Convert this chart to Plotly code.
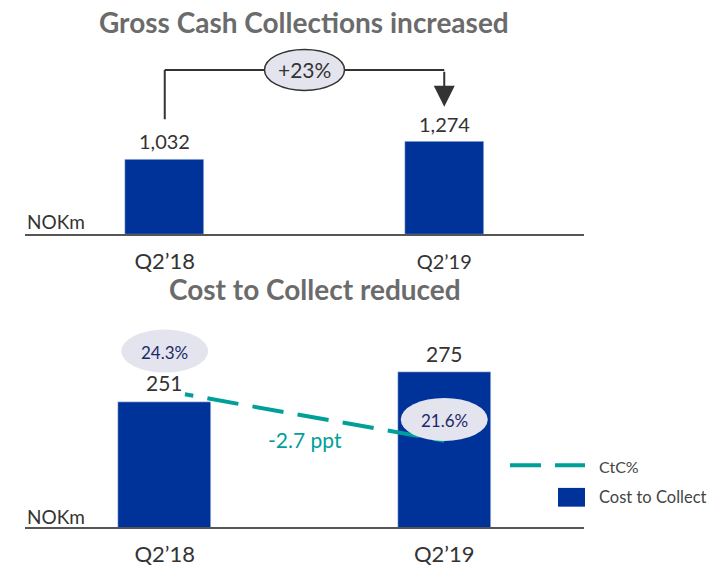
import plotly.graph_objects as go

quarters = ["Q2’18", "Q2’19"]
gross_cash = [1032, 1274]
cost_to_collect = [251, 275]
ctc_pct = [24.3, 21.6]
unit_label = "NOKm"

NAVY = "#003399"
TEAL = "#00A099"
INK = "#333333"
TITLE_GREY = "#6b6b6b"
BUBBLE = "#e4e4ee"
BUBBLE_TEXT = "#1c2a6a"
FONT = "Lato"

W, H = 712, 567


def fx(px):
    return px / W


def fy(px):
    return 1 - px / H


fig = go.Figure()

fig.add_trace(
    go.Bar(
        x=quarters,
        y=gross_cash,
        xaxis="x",
        yaxis="y",
        width=0.283,
        marker={"color": NAVY},
        name="Gross Cash Collections",
        showlegend=False,
        hoverinfo="skip",
    )
)
fig.add_trace(
    go.Bar(
        x=quarters,
        y=cost_to_collect,
        xaxis="x2",
        yaxis="y2",
        width=0.333,
        marker={"color": NAVY},
        name="Cost to Collect",
        showlegend=False,
        hoverinfo="skip",
    )
)
# first part of the dashed line sits hidden in the original, so the pattern starts with a gap
ctc_dash = "0px,20.5px,8.5px,14.3px" + ",31.5px,14.3px" * 6
fig.add_trace(
    go.Scatter(
        x=quarters,
        y=ctc_pct,
        xaxis="x2",
        yaxis="y3",
        mode="lines",
        line={"color": TEAL, "width": 4, "dash": ctc_dash},
        name="CtC%",
        showlegend=False,
        hoverinfo="skip",
    )
)

annotations = []
shapes = []

# bar value labels
for i, v in enumerate(gross_cash):
    annotations.append(dict(x=i, y=v, xref="x", yref="y", text=f"{v:,}", showarrow=False,
                            yshift=18, font={"size": 20, "color": INK}))
for i, v in enumerate(cost_to_collect):
    annotations.append(dict(x=i, y=v, xref="x2", yref="y2", text=f"{v:,}", showarrow=False,
                            yshift=19, font={"size": 21, "color": INK}))

# growth bracket on the top panel
growth = (gross_cash[1] / gross_cash[0] - 1) * 100
bracket_up = 89.3
line_style = {"color": INK, "width": 2}
shapes.append(dict(type="line", xref="x", yref="y", ysizemode="pixel", yanchor=gross_cash[0],
                   x0=0, x1=0, y0=40, y1=bracket_up, line=line_style, layer="above"))
shapes.append(dict(type="line", xref="x", yref="y", ysizemode="pixel", yanchor=gross_cash[0],
                   x0=0, x1=1, y0=bracket_up, y1=bracket_up, line=line_style, layer="above"))
shapes.append(dict(type="circle", xref="x", yref="y", xsizemode="pixel", ysizemode="pixel",
                   xanchor=0.5, yanchor=gross_cash[0], x0=-40, x1=40,
                   y0=bracket_up - 20.5, y1=bracket_up + 20.5,
                   fillcolor=BUBBLE, line={"color": INK, "width": 1.5}, layer="above"))
annotations.append(dict(x=0.5, y=gross_cash[0], xref="x", yref="y", yshift=bracket_up,
                        text=f"+{growth:.0f}%", showarrow=False,
                        font={"size": 21, "color": INK}))
arrow_top = 71.3
annotations.append(dict(x=1, y=gross_cash[1], xref="x", yref="y", text="", showarrow=True,
                        ax=0, ay=-arrow_top, standoff=35, arrowhead=2, arrowsize=2.1,
                        arrowwidth=2, arrowcolor=INK))

# CtC% bubbles
bubble_shift = [39.6, 21.2]
for i, v in enumerate(ctc_pct):
    s = bubble_shift[i]
    shapes.append(dict(type="circle", xref="x2", yref="y3", xsizemode="pixel", ysizemode="pixel",
                       xanchor=i, yanchor=v, x0=-43.5, x1=43.5, y0=s - 21.5, y1=s + 21.5,
                       fillcolor=BUBBLE, line={"width": 0}, layer="above"))
    annotations.append(dict(x=i, y=v, xref="x2", yref="y3", yshift=s - 1, text=f"{v:.1f}%",
                            showarrow=False, font={"size": 17, "color": BUBBLE_TEXT}))

change = ctc_pct[1] - ctc_pct[0]
annotations.append(dict(x=0.5, y=sum(ctc_pct) / 2, xref="x2", yref="y3", yshift=-24,
                        text=f"{change:.1f} ppt", showarrow=False,
                        font={"size": 21, "color": TEAL}))

# titles and unit labels
paper_text = dict(xref="paper", yref="paper", showarrow=False, yanchor="middle")
annotations.append(dict(paper_text, x=fx(303.5), y=fy(22), xanchor="center",
                        text="<b>Gross Cash Collections increased</b>",
                        font={"size": 28, "color": TITLE_GREY}))
annotations.append(dict(paper_text, x=fx(315), y=fy(293), xanchor="center",
                        text="<b>Cost to Collect reduced</b>",
                        font={"size": 28, "color": TITLE_GREY}))
for ypx in (224, 523):
    annotations.append(dict(paper_text, x=fx(25), y=fy(ypx), xanchor="left",
                            text=unit_label, font={"size": 19, "color": INK}))

# hand-built legend for the bottom panel
shapes.append(dict(type="line", xref="paper", yref="paper", x0=fx(510), x1=fx(585),
                   y0=fy(471), y1=fy(471), line={"color": TEAL, "width": 4, "dash": "31px,14px"}))
shapes.append(dict(type="rect", xref="paper", yref="paper", x0=fx(558), x1=fx(585),
                   y0=fy(513), y1=fy(494), fillcolor=NAVY, line={"width": 0}))
annotations.append(dict(paper_text, x=fx(597), y=fy(472), xanchor="left",
                        text="CtC%", font={"size": 16, "color": "#444444"}))
annotations.append(dict(paper_text, x=fx(597), y=fy(503), xanchor="left",
                        text="Cost to Collect", font={"size": 16.5, "color": "#444444"}))

x_common = dict(
    domain=[fx(25), fx(584)],
    type="category",
    range=[-0.5, 1.5],
    showline=True,
    linecolor="#555555",
    linewidth=2,
    showgrid=False,
    zeroline=False,
    ticks="outside",
    ticklen=6,
    tickcolor="rgba(0,0,0,0)",
    tickfont={"size": 22, "color": INK},
    fixedrange=True,
)

fig.update_layout(
    width=W,
    height=H,
    margin={"l": 0, "r": 0, "t": 0, "b": 0},
    paper_bgcolor="white",
    plot_bgcolor="white",
    font={"family": FONT, "color": INK},
    showlegend=False,
    bargap=0,
    xaxis=dict(x_common, anchor="y", tickvals=quarters,
               ticktext=[quarters[0], f"<span style='font-size:20px'>{quarters[1]}</span>"]),
    yaxis=dict(domain=[fy(237.3), fy(40)], range=[0, 2677], visible=False, fixedrange=True),
    xaxis2=dict(x_common, anchor="y2"),
    yaxis2=dict(domain=[fy(534), fy(318)], range=[149.4, 322.2], visible=False, fixedrange=True),
    yaxis3=dict(overlaying="y2", range=[16.915, 28.44], visible=False, fixedrange=True),
    shapes=shapes,
    annotations=annotations,
)

fig.write_html(
    "out.html",
    config={"displayModeBar": False},
    post_script="document.body.style.margin = '0';",
)
